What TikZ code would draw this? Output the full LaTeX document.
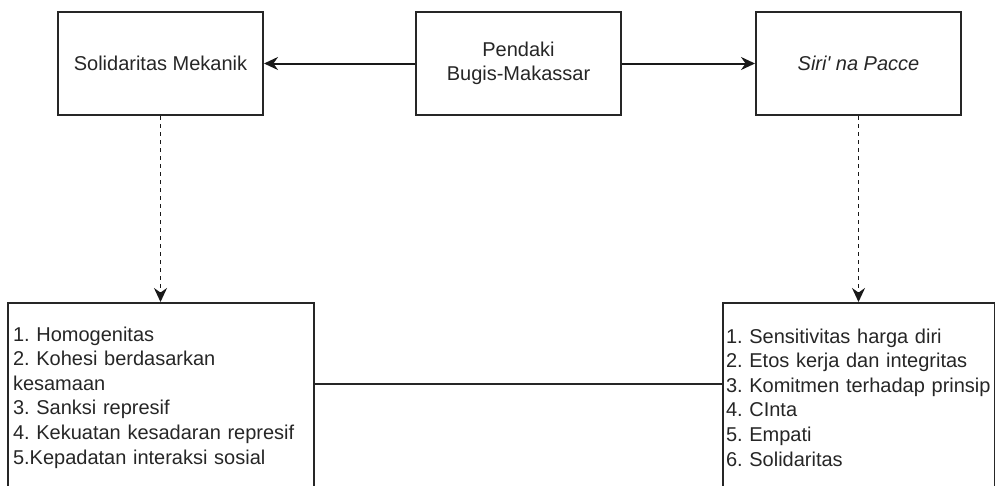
\documentclass[tikz,border=0pt]{standalone}
\usepackage{fontspec}
\setmainfont{Liberation Sans}[Ligatures=TeXOff]
\usetikzlibrary{arrows.meta}
\begin{document}
\frenchspacing
\begin{tikzpicture}[x=1pt,y=-1pt,
  box/.style={draw=black!85, line width=2pt, rectangle, inner sep=0pt, minimum width=205pt, minimum height=103pt, align=center, font=\fontsize{20}{24.5}\selectfont, text=black!85},
  listbox/.style={draw=black!85, line width=2pt, rectangle, inner ysep=5pt, align=left, font=\fontsize{20}{24.6}\selectfont, text=black!85, minimum height=189pt},
  conn/.style={line width=2pt, draw=black!90, -{Stealth[length=14pt,width=13pt]}},
  dconn/.style={line width=1.6pt, draw=black!90, dash pattern=on 4pt off 4pt, -{Stealth[length=14pt,width=13pt]}},
  plain/.style={line width=2pt, draw=black!85}]
\useasboundingbox (0,0) rectangle (995,485);
\node[box] (sm) at (160.5,63.5) {Solidaritas Mekanik};
\node[box] (pb) at (518.5,63.5) {Pendaki\\Bugis-Makassar};
\node[box] (sp) at (858.5,63.5) {\itshape Siri' na Pacce};
\node[listbox, inner xsep=5pt, text width=296pt, anchor=north west] (la) at (7,302) {1. Homogenitas\\2. Kohesi berdasarkan\\kesamaan\\3. Sanksi represif\\4. Kekuatan kesadaran represif\\5.Kepadatan interaksi sosial};
\node[listbox, inner xsep=3pt, text width=266pt, anchor=north west] (lb) at (722,302) {1. Sensitivitas harga diri\\2. Etos kerja dan integritas\\3. Komitmen terhadap prinsip\\4. CInta\\5. Empati\\6. Solidaritas};
\draw[conn] (pb.west) -- (sm.east);
\draw[conn] (pb.east) -- (sp.west);
\draw[dconn] (sm.south) -- (sm.south |- la.north);
\draw[dconn] (sp.south) -- (sp.south |- lb.north);
\draw[plain] ([yshift=13.5pt]la.east) -- ([yshift=13.5pt]la.east -| lb.west);
\end{tikzpicture}
\end{document}
